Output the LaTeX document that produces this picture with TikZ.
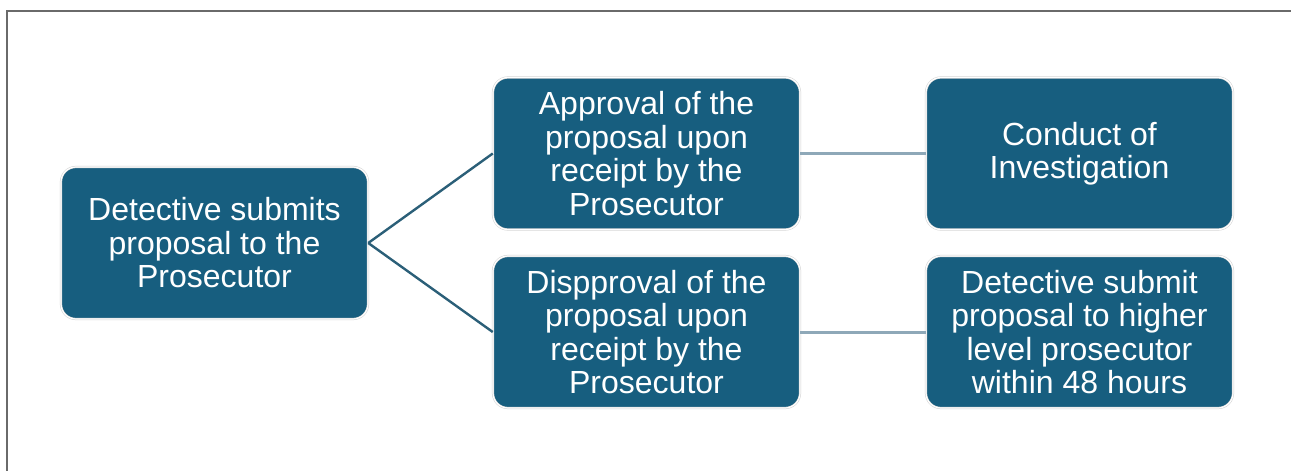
\documentclass[tikz,border=0pt]{standalone}
\usepackage{fontspec}
\setmainfont{Liberation Sans}
\usepackage{tikz}

\definecolor{boxblue}{HTML}{175E7F}
\definecolor{linkdark}{HTML}{2B5F78}
\definecolor{linklight}{HTML}{8EA8B8}
\definecolor{framegray}{HTML}{6A6A6A}

\begin{document}
\begin{tikzpicture}[x=1pt, y=-1pt,
	stagebox/.style={rectangle, rounded corners=15pt, fill=boxblue, draw=black!18, double=white, double distance=1.2pt, line width=0.5pt, text=white, align=center, minimum width=307pt, minimum height=152pt, inner sep=0pt, font=\fontsize{32}{33.5}\selectfont},
	branch/.style={draw=linkdark, line width=2.4pt},
	follow/.style={draw=linklight, line width=3pt}]
			\useasboundingbox (0,0) rectangle (1291,471);
			\draw[framegray, line width=1.5pt] (7,471) -- (7,11) -- (1291,11); % page frame

			\begin{scope}
				\node[stagebox] (submit) at (214.5,243) {Detective submits\\proposal to the\\Prosecutor};
				\node[stagebox] (approve) at (646.5,153.5) {Approval of the\\proposal upon\\receipt by the\\Prosecutor};
				\node[stagebox] (reject) at (646.5,332) {Dispproval of the\\proposal upon\\receipt by the\\Prosecutor};
				\node[stagebox] (conduct) at (1079.5,153.5) {Conduct of\\Investigation};
				\node[stagebox] (higher) at (1079.5,332) {Detective submit\\proposal to higher\\level prosecutor\\within 48 hours};

				\draw[branch] (submit.east) -- (approve.west); % to approval
				\draw[branch] (submit.east) -- (reject.west); % to disapproval
				\draw[follow] (approve.east) -- (conduct.west);
				\draw[follow] (reject.east) -- (higher.west);
			\end{scope}
\end{tikzpicture}
\end{document}
